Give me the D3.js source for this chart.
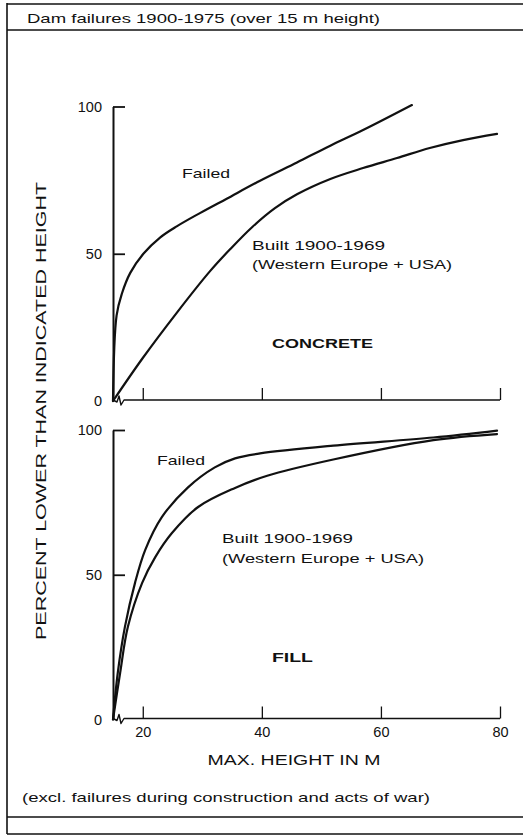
<!DOCTYPE html>
<html>
<head>
<meta charset="utf-8">
<script src="https://cdn.jsdelivr.net/npm/d3@7"></script>
<style>
  body { margin: 0; background: #fff; }
  svg { display: block; }
  text { font-family: "Liberation Sans", Arial, Helvetica, sans-serif; fill: #111; }
</style>
</head>
<body>
<svg id="chart" width="523" height="835"></svg>
<script>
// Axis ticks
const heightTicks = [20, 40, 60, 80];
const percentTicks = [0, 50, 100];

// Concrete dams: cumulative percent lower than a given max. height (m)
const concreteFailedHeight = [15, 15.6, 16.5, 17.9, 20.1, 22.9, 25.7, 29.6, 34.1, 39.7, 45.9, 51.5, 57.0, 65.2];
const concreteFailedPct    = [0, 29.0, 36.5, 43.5, 50.0, 55.5, 59.3, 63.8, 68.7, 74.8, 81.0, 86.7, 92.0, 100.5];
const concreteBuiltHeight  = [15, 20, 25.8, 31.3, 34.7, 38.4, 42.2, 45.9, 51.5, 57, 62.7, 68.2, 73.8, 79.5];
const concreteBuiltPct     = [0, 14.6, 30.2, 44.1, 51.6, 59.1, 65.5, 70.2, 75.4, 79.1, 82.5, 85.9, 88.6, 90.7];

// Fill dams
const fillFailedHeight = [15, 15.8, 17.0, 18.7, 20.4, 23.2, 27.6, 32.1, 35.5, 39.7, 52.0, 68.8, 79.5];
const fillFailedPct    = [0, 16.1, 32.0, 47.2, 58.5, 69.9, 80.2, 87.1, 90.2, 91.9, 94.6, 97.4, 99.8];
const fillBuiltHeight  = [15, 16.2, 17.5, 19.9, 22.1, 24.9, 29.3, 35.5, 40.9, 52.0, 68.8, 79.5];
const fillBuiltPct     = [0, 16.1, 32.0, 47.2, 56.1, 64.4, 73.4, 80.0, 84.2, 89.8, 96.5, 98.6];

const svg = d3.select("#chart");
const ink = "#111";

// Outer frame with title and footnote bands
const frame = svg.append("g").attr("stroke", ink).attr("stroke-width", 1.6).attr("fill", "none");
frame.append("line").attr("x1", 7).attr("x2", 7).attr("y1", 3).attr("y2", 834);
[4, 30, 817, 834].forEach(y => frame.append("line").attr("x1", 7).attr("x2", 523).attr("y1", y).attr("y2", y));

function label(x, y, str, size, width, opts = {}) {
  const t = svg.append("text")
    .attr("x", x).attr("y", y)
    .attr("font-size", size)
    .attr("font-weight", opts.bold ? "bold" : "normal")
    .attr("text-anchor", opts.anchor || "start")
    .text(str);
  if (width) t.attr("textLength", width).attr("lengthAdjust", "spacingAndGlyphs");
  if (opts.transform) t.attr("transform", opts.transform);
  return t;
}

label(27, 23, "Dam failures 1900-1975 (over 15 m height)", 13.5, 353);
label(22, 802, "(excl. failures during construction and acts of war)", 13.5, 408);

const x = d3.scaleLinear().domain([15, 80]).range([113, 500]);

const panels = [
  { name: "CONCRETE", y: d3.scaleLinear().domain([0, 100]).range([401, 106.5]),
    failed: [concreteFailedHeight, concreteFailedPct], built: [concreteBuiltHeight, concreteBuiltPct],
    showX: false },
  { name: "FILL", y: d3.scaleLinear().domain([0, 100]).range([719.5, 430]),
    failed: [fillFailedHeight, fillFailedPct], built: [fillBuiltHeight, fillBuiltPct],
    showX: true }
];

const line = (yScale) => d3.line()
  .x(d => x(d[0]))
  .y(d => yScale(d[1]))
  .curve(d3.curveCatmullRom.alpha(0.5));

panels.forEach(p => {
  const g = svg.append("g");
  const base = p.y(0) - 1;

  // Percent axis with inward ticks
  const yAxis = g.append("g")
    .attr("transform", `translate(${x(15)},0)`)
    .call(d3.axisLeft(p.y).tickValues(percentTicks).tickSize(-12).tickSizeOuter(0).tickPadding(11));
  yAxis.select(".domain").attr("stroke", ink).attr("stroke-width", 2);
  yAxis.selectAll(".tick line").attr("stroke", ink).attr("stroke-width", 1.8)
    .filter(d => d === 0).remove();
  yAxis.selectAll(".tick text").attr("font-size", 14.5).attr("fill", ink).attr("font-family", null);

  // Height axis with upward ticks
  const xAxis = g.append("g")
    .attr("transform", `translate(0,${base})`)
    .call(d3.axisBottom(x).tickValues(heightTicks).tickSize(-12).tickSizeOuter(0).tickPadding(8)
      .tickFormat(p.showX ? d3.format("d") : () => ""));
  xAxis.select(".domain").remove();
  xAxis.selectAll(".tick line").attr("stroke", ink).attr("stroke-width", 1.3);
  xAxis.selectAll(".tick text").attr("font-size", 14.5).attr("fill", ink).attr("font-family", null);

  // Baseline with a scale break just right of the origin
  const x0 = x(15);
  g.append("path")
    .attr("d", `M${x0},${base} L${x0 + 4},${base + 2} L${x0 + 6},${base - 4} L${x0 + 8},${base + 5} L${x0 + 11},${base} L${x(80)},${base}`)
    .attr("fill", "none").attr("stroke", ink).attr("stroke-width", 1.4).attr("stroke-linejoin", "round");

  // Distribution curves
  [p.failed, p.built].forEach(([hs, ps]) => {
    g.append("path")
      .datum(hs.map((h, i) => [h, ps[i]]))
      .attr("d", line(p.y))
      .attr("fill", "none").attr("stroke", ink).attr("stroke-width", 2.2).attr("stroke-linecap", "round");
  });
});

// Curve labels and panel names
label(182, 178, "Failed", 13.5, 48);
label(252, 250, "Built 1900-1969", 13.5, 133);
label(252, 269, "(Western Europe + USA)", 13.5, 200);
label(272, 348, "CONCRETE", 13.5, 101, { bold: true });

label(157, 465, "Failed", 13.5, 48);
label(222, 543, "Built 1900-1969", 13.5, 131);
label(222, 563, "(Western Europe + USA)", 13.5, 202);
label(272, 662, "FILL", 13.5, 41, { bold: true });

// Axis titles
label(294, 765, "MAX. HEIGHT IN M", 14, 173, { anchor: "middle" });
label(0, 0, "PERCENT LOWER THAN INDICATED HEIGHT", 14, 458,
  { anchor: "middle", transform: "translate(46,411) rotate(-90)" });
</script>
</body>
</html>
